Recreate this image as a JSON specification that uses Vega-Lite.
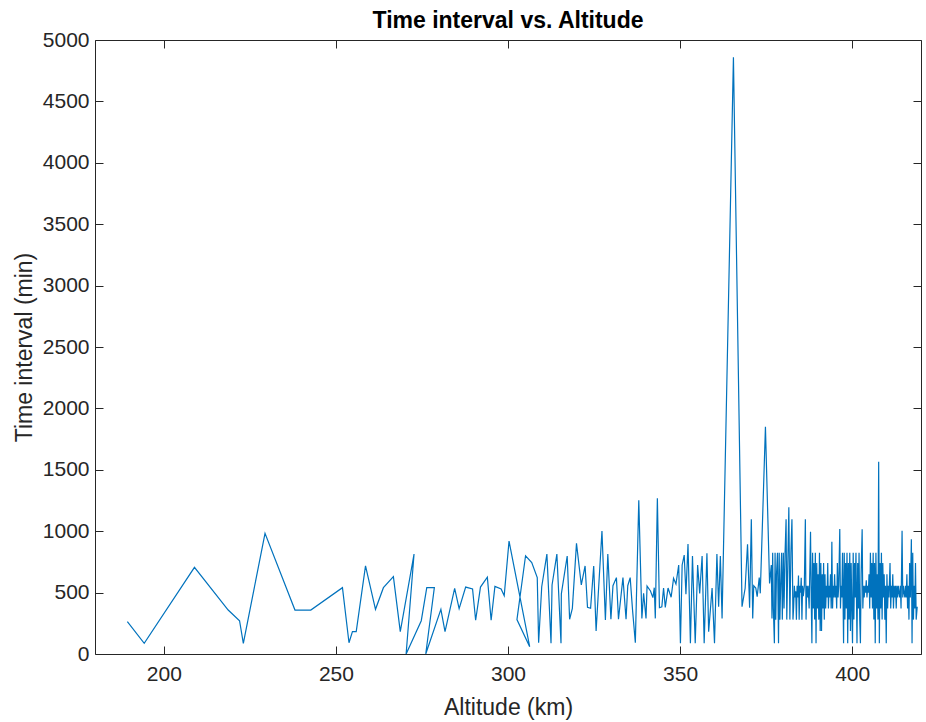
{
  "$schema": "https://vega.github.io/schema/vega-lite/v6.json",
  "width": 826,
  "height": 614,
  "autosize": {"type": "none"},
  "padding": {"left": 95, "top": 40, "right": 5, "bottom": 68},
  "background": "white",
  "title": {
    "text": "Time interval vs. Altitude",
    "font": "Liberation Sans",
    "fontSize": 23,
    "fontWeight": "bold",
    "color": "#000000",
    "anchor": "middle",
    "offset": -4
  },
  "config": {
    "view": {"stroke": null},
    "axis": {
      "font": "Liberation Sans",
      "labelFont": "Liberation Sans",
      "titleFont": "Liberation Sans",
      "labelFontSize": 21,
      "titleFontSize": 23,
      "titleFontWeight": "normal",
      "labelColor": "#262626",
      "titleColor": "#262626",
      "domainColor": "#262626",
      "tickColor": "#262626",
      "domainWidth": 1,
      "tickWidth": 1,
      "grid": false
    }
  },
  "data": {
    "values": [
      {"alt": 189.4, "t": 263}, {"alt": 194.3, "t": 87}, {"alt": 208.9, "t": 706}, {"alt": 218.7, "t": 358},
      {"alt": 222.0, "t": 271}, {"alt": 223.1, "t": 87}, {"alt": 229.4, "t": 983}, {"alt": 238.1, "t": 358},
      {"alt": 242.7, "t": 358}, {"alt": 251.9, "t": 540}, {"alt": 253.8, "t": 92}, {"alt": 254.8, "t": 182},
      {"alt": 255.9, "t": 182}, {"alt": 258.6, "t": 717}, {"alt": 261.5, "t": 364}, {"alt": 263.8, "t": 540},
      {"alt": 266.7, "t": 630}, {"alt": 268.7, "t": 182}, {"alt": 272.7, "t": 814}, {"alt": 270.4, "t": 0},
      {"alt": 274.8, "t": 271}, {"alt": 276.4, "t": 540}, {"alt": 278.6, "t": 540}, {"alt": 276.1, "t": 0},
      {"alt": 280.5, "t": 364}, {"alt": 281.7, "t": 182}, {"alt": 284.5, "t": 535}, {"alt": 285.8, "t": 370},
      {"alt": 287.7, "t": 545}, {"alt": 289.7, "t": 530}, {"alt": 290.6, "t": 275}, {"alt": 292.0, "t": 545},
      {"alt": 294.0, "t": 625}, {"alt": 295.1, "t": 275}, {"alt": 296.2, "t": 550}, {"alt": 298.0, "t": 530},
      {"alt": 298.9, "t": 475}, {"alt": 300.3, "t": 920}, {"alt": 306.3, "t": 60}, {"alt": 302.6, "t": 280},
      {"alt": 305.1, "t": 800}, {"alt": 306.9, "t": 745}, {"alt": 308.5, "t": 622}, {"alt": 308.9, "t": 92},
      {"alt": 309.8, "t": 548}, {"alt": 311.3, "t": 814}, {"alt": 312.5, "t": 87}, {"alt": 312.8, "t": 562},
      {"alt": 314.2, "t": 814}, {"alt": 315.4, "t": 87}, {"alt": 315.5, "t": 490}, {"alt": 317.2, "t": 798},
      {"alt": 317.9, "t": 283}, {"alt": 318.7, "t": 372}, {"alt": 319.9, "t": 901}, {"alt": 321.3, "t": 562},
      {"alt": 322.4, "t": 717}, {"alt": 323.1, "t": 380}, {"alt": 324.0, "t": 372}, {"alt": 324.9, "t": 717},
      {"alt": 325.6, "t": 187}, {"alt": 327.3, "t": 1001}, {"alt": 328.3, "t": 277}, {"alt": 329.0, "t": 814},
      {"alt": 329.9, "t": 283}, {"alt": 330.5, "t": 556}, {"alt": 331.5, "t": 622}, {"alt": 332.1, "t": 283},
      {"alt": 333.4, "t": 622}, {"alt": 334.3, "t": 283}, {"alt": 334.8, "t": 556}, {"alt": 335.5, "t": 622},
      {"alt": 336.2, "t": 353}, {"alt": 337.0, "t": 92}, {"alt": 338.0, "t": 1252}, {"alt": 338.9, "t": 290},
      {"alt": 339.4, "t": 494}, {"alt": 340.1, "t": 290}, {"alt": 340.4, "t": 553}, {"alt": 341.4, "t": 513},
      {"alt": 342.1, "t": 459}, {"alt": 342.5, "t": 540}, {"alt": 342.8, "t": 290}, {"alt": 343.4, "t": 1268},
      {"alt": 344.0, "t": 377}, {"alt": 344.7, "t": 385}, {"alt": 345.2, "t": 537}, {"alt": 345.7, "t": 380},
      {"alt": 346.5, "t": 537}, {"alt": 347.4, "t": 462}, {"alt": 348.1, "t": 616}, {"alt": 348.8, "t": 570},
      {"alt": 349.6, "t": 725}, {"alt": 350.1, "t": 87}, {"alt": 350.6, "t": 725}, {"alt": 351.2, "t": 806},
      {"alt": 351.7, "t": 486}, {"alt": 352.3, "t": 896}, {"alt": 353.0, "t": 87}, {"alt": 353.6, "t": 798},
      {"alt": 354.4, "t": 87}, {"alt": 355.1, "t": 725}, {"alt": 355.7, "t": 494}, {"alt": 356.4, "t": 798},
      {"alt": 357.0, "t": 87}, {"alt": 357.8, "t": 820}, {"alt": 358.3, "t": 182}, {"alt": 359.3, "t": 537},
      {"alt": 360.0, "t": 87}, {"alt": 360.7, "t": 814}, {"alt": 361.2, "t": 385}, {"alt": 361.7, "t": 798},
      {"alt": 362.2, "t": 290}, {"alt": 365.5, "t": 4860}, {"alt": 368.0, "t": 385}, {"alt": 368.9, "t": 535},
      {"alt": 369.6, "t": 893}, {"alt": 370.2, "t": 377}, {"alt": 370.7, "t": 1097}, {"alt": 371.1, "t": 290},
      {"alt": 371.4, "t": 556}, {"alt": 372.0, "t": 537}, {"alt": 372.4, "t": 467}, {"alt": 373.0, "t": 622},
      {"alt": 373.3, "t": 494}, {"alt": 374.8, "t": 1851}, {"alt": 376.0, "t": 575}, {"alt": 376.5, "t": 725},
      {"alt": 376.7, "t": 290}, {"alt": 376.9, "t": 825}, {"alt": 377.1, "t": 370}, {"alt": 377.4, "t": 87},
      {"alt": 377.6, "t": 825}, {"alt": 377.8, "t": 280}, {"alt": 378.0, "t": 640}, {"alt": 378.3, "t": 825},
      {"alt": 378.6, "t": 87}, {"alt": 378.8, "t": 825}, {"alt": 379.0, "t": 280}, {"alt": 379.3, "t": 640},
      {"alt": 379.5, "t": 825}, {"alt": 379.7, "t": 280}, {"alt": 380.0, "t": 825}, {"alt": 380.2, "t": 370},
      {"alt": 380.5, "t": 825}, {"alt": 380.8, "t": 1097}, {"alt": 381.0, "t": 280}, {"alt": 381.3, "t": 740},
      {"alt": 381.6, "t": 1195}, {"alt": 381.9, "t": 280}, {"alt": 382.2, "t": 825}, {"alt": 382.5, "t": 1097},
      {"alt": 382.8, "t": 280}, {"alt": 383.0, "t": 385}, {"alt": 383.2, "t": 555}, {"alt": 383.4, "t": 460},
      {"alt": 383.6, "t": 510}, {"alt": 383.8, "t": 280}, {"alt": 384.0, "t": 555}, {"alt": 384.2, "t": 460},
      {"alt": 384.4, "t": 640}, {"alt": 384.6, "t": 280}, {"alt": 384.8, "t": 555}, {"alt": 385.0, "t": 500},
      {"alt": 385.2, "t": 620}, {"alt": 385.4, "t": 280}, {"alt": 385.6, "t": 555}, {"alt": 385.8, "t": 470},
      {"alt": 386.1, "t": 555}, {"alt": 386.4, "t": 1097}, {"alt": 386.6, "t": 280}, {"alt": 386.8, "t": 555},
      {"alt": 387.0, "t": 460}, {"alt": 387.2, "t": 555}, {"alt": 387.5, "t": 370}, {"alt": 387.9, "t": 996},
      {"alt": 388.1, "t": 460}, {"alt": 388.3, "t": 87}, {"alt": 388.5, "t": 825}, {"alt": 388.7, "t": 370},
      {"alt": 388.9, "t": 740}, {"alt": 389.1, "t": 280}, {"alt": 389.3, "t": 825}, {"alt": 389.5, "t": 87},
      {"alt": 389.7, "t": 740}, {"alt": 389.9, "t": 370}, {"alt": 390.1, "t": 650}, {"alt": 390.3, "t": 280},
      {"alt": 390.5, "t": 825}, {"alt": 390.7, "t": 187}, {"alt": 390.9, "t": 740}, {"alt": 391.1, "t": 187},
      {"alt": 391.3, "t": 650}, {"alt": 391.5, "t": 370}, {"alt": 391.7, "t": 740}, {"alt": 391.9, "t": 280},
      {"alt": 392.1, "t": 650}, {"alt": 392.3, "t": 370}, {"alt": 392.5, "t": 555}, {"alt": 392.7, "t": 460},
      {"alt": 392.9, "t": 740}, {"alt": 393.1, "t": 370}, {"alt": 393.3, "t": 555}, {"alt": 393.5, "t": 460},
      {"alt": 393.7, "t": 650}, {"alt": 393.9, "t": 370}, {"alt": 394.1, "t": 915}, {"alt": 394.3, "t": 370},
      {"alt": 394.5, "t": 555}, {"alt": 394.7, "t": 460}, {"alt": 394.9, "t": 650}, {"alt": 395.1, "t": 460},
      {"alt": 395.3, "t": 555}, {"alt": 395.5, "t": 370}, {"alt": 395.7, "t": 740}, {"alt": 395.9, "t": 460},
      {"alt": 396.1, "t": 555}, {"alt": 396.4, "t": 1018}, {"alt": 396.6, "t": 370}, {"alt": 396.8, "t": 555},
      {"alt": 397.0, "t": 460}, {"alt": 397.2, "t": 825}, {"alt": 397.5, "t": 87}, {"alt": 397.7, "t": 825},
      {"alt": 397.9, "t": 280}, {"alt": 398.1, "t": 740}, {"alt": 398.3, "t": 370}, {"alt": 398.5, "t": 825},
      {"alt": 398.7, "t": 87}, {"alt": 398.9, "t": 740}, {"alt": 399.1, "t": 280}, {"alt": 399.3, "t": 825},
      {"alt": 399.5, "t": 187}, {"alt": 399.7, "t": 740}, {"alt": 399.9, "t": 370}, {"alt": 400.1, "t": 87},
      {"alt": 400.3, "t": 825}, {"alt": 400.5, "t": 280}, {"alt": 400.7, "t": 740}, {"alt": 400.9, "t": 460},
      {"alt": 401.1, "t": 825}, {"alt": 401.4, "t": 87}, {"alt": 401.6, "t": 740}, {"alt": 401.8, "t": 370},
      {"alt": 402.0, "t": 825}, {"alt": 402.2, "t": 280}, {"alt": 402.4, "t": 87}, {"alt": 402.6, "t": 650},
      {"alt": 402.9, "t": 1015}, {"alt": 403.1, "t": 370}, {"alt": 403.3, "t": 555}, {"alt": 403.5, "t": 460},
      {"alt": 403.7, "t": 555}, {"alt": 403.9, "t": 500}, {"alt": 404.1, "t": 600}, {"alt": 404.3, "t": 460},
      {"alt": 404.5, "t": 555}, {"alt": 404.7, "t": 500}, {"alt": 404.9, "t": 650}, {"alt": 405.1, "t": 370},
      {"alt": 405.3, "t": 825}, {"alt": 405.5, "t": 460}, {"alt": 405.7, "t": 740}, {"alt": 405.9, "t": 370},
      {"alt": 406.1, "t": 825}, {"alt": 406.3, "t": 280}, {"alt": 406.5, "t": 740}, {"alt": 406.7, "t": 87},
      {"alt": 406.9, "t": 825}, {"alt": 407.1, "t": 370}, {"alt": 407.3, "t": 650}, {"alt": 407.5, "t": 280},
      {"alt": 407.7, "t": 1566}, {"alt": 407.9, "t": 87}, {"alt": 408.1, "t": 740}, {"alt": 408.3, "t": 370},
      {"alt": 408.5, "t": 825}, {"alt": 408.7, "t": 280}, {"alt": 408.9, "t": 740}, {"alt": 409.1, "t": 460},
      {"alt": 409.3, "t": 650}, {"alt": 409.5, "t": 280}, {"alt": 409.7, "t": 555}, {"alt": 409.9, "t": 87},
      {"alt": 410.1, "t": 650}, {"alt": 410.3, "t": 370}, {"alt": 410.5, "t": 555}, {"alt": 410.7, "t": 460},
      {"alt": 411.0, "t": 740}, {"alt": 411.2, "t": 370}, {"alt": 411.4, "t": 555}, {"alt": 411.6, "t": 460},
      {"alt": 411.8, "t": 650}, {"alt": 412.0, "t": 370}, {"alt": 412.2, "t": 555}, {"alt": 412.4, "t": 460},
      {"alt": 412.6, "t": 555}, {"alt": 412.8, "t": 370}, {"alt": 413.0, "t": 555}, {"alt": 413.2, "t": 460},
      {"alt": 413.4, "t": 555}, {"alt": 413.6, "t": 500}, {"alt": 413.8, "t": 460}, {"alt": 414.0, "t": 555},
      {"alt": 414.2, "t": 370}, {"alt": 414.5, "t": 1004}, {"alt": 414.7, "t": 460}, {"alt": 414.9, "t": 555},
      {"alt": 415.1, "t": 500}, {"alt": 415.3, "t": 460}, {"alt": 415.5, "t": 555}, {"alt": 415.7, "t": 460},
      {"alt": 415.9, "t": 650}, {"alt": 416.1, "t": 370}, {"alt": 416.3, "t": 555}, {"alt": 416.5, "t": 280},
      {"alt": 416.7, "t": 740}, {"alt": 416.9, "t": 460}, {"alt": 417.2, "t": 934}, {"alt": 417.4, "t": 87},
      {"alt": 417.6, "t": 825}, {"alt": 417.8, "t": 280}, {"alt": 418.0, "t": 555}, {"alt": 418.2, "t": 370},
      {"alt": 418.4, "t": 740}, {"alt": 418.6, "t": 280}, {"alt": 418.9, "t": 385}
    ]
  },
  "layer": [
    {
      "mark": {"type": "line", "color": "#0072BD", "strokeWidth": 1.2, "clip": true},
      "encoding": {
        "x": {
          "field": "alt",
          "type": "quantitative",
          "scale": {"domain": [180, 420], "nice": false, "zero": false},
          "axis": {
            "orient": "bottom",
            "title": "Altitude (km)",
            "values": [200, 250, 300, 350, 400],
            "format": "d",
            "tickSize": -8,
            "labelPadding": 17,
            "titlePadding": 12
          }
        },
        "y": {
          "field": "t",
          "type": "quantitative",
          "scale": {"domain": [0, 5000], "nice": false},
          "axis": {
            "orient": "left",
            "title": "Time interval (min)",
            "values": [0, 500, 1000, 1500, 2000, 2500, 3000, 3500, 4000, 4500, 5000],
            "format": "d",
            "tickSize": -8,
            "labelPadding": 14,
            "titlePadding": 6
          }
        },
        "order": {"value": null}
      }
    },
    {
      "mark": {"type": "line", "opacity": 0},
      "encoding": {
        "x": {
          "field": "alt",
          "type": "quantitative",
          "scale": {"domain": [180, 420], "nice": false, "zero": false},
          "axis": {
            "orient": "top",
            "title": null,
            "labels": false,
            "values": [200, 250, 300, 350, 400],
            "tickSize": -8
          }
        },
        "y": {
          "field": "t",
          "type": "quantitative",
          "scale": {"domain": [0, 5000], "nice": false},
          "axis": {
            "orient": "right",
            "title": null,
            "labels": false,
            "values": [0, 500, 1000, 1500, 2000, 2500, 3000, 3500, 4000, 4500, 5000],
            "tickSize": -8
          }
        },
        "order": {"value": null}
      }
    }
  ],
  "resolve": {"axis": {"x": "independent", "y": "independent"}}
}
